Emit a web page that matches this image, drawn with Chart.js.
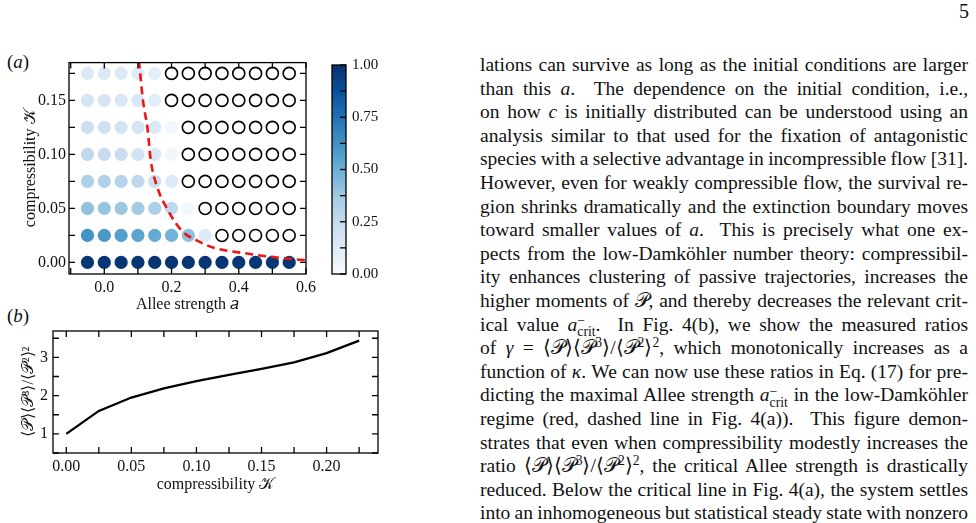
<!DOCTYPE html>
<html>
<head>
<meta charset="utf-8">
<script src="https://cdn.jsdelivr.net/npm/chart.js@4.4.1/dist/chart.umd.min.js"></script>
<style>
body { margin: 0; width: 976px; height: 523px; overflow: hidden; background: #fff; position: relative; font-family: "Liberation Serif", serif; color: #111; }
.abs { position: absolute; }
canvas { position: absolute; }
#page { right: 7px; top: 0px; font-size: 20px; }
.panel { left: 7px; font-size: 19px; }
#text { left: 480px; top: 53px; width: 488px; font-size: 19.5px; word-spacing: -1.5px; }
#text div { height: 23.6px; line-height: 23.6px; text-align: justify; text-align-last: justify; white-space: nowrap; }
.ss { display: inline-block; vertical-align: -0.42em; font-size: 0.7em; line-height: 0.82; text-align: left; }
.ss span { display: block; }
sup { font-size: 0.7em; line-height: 0; }
</style>
</head>
<body>
<div id="page" class="abs">5</div>
<div class="abs panel" style="top:51px">(<i>a</i>)</div>
<div class="abs panel" style="top:305px">(<i>b</i>)</div>

<canvas id="gridChart" width="330" height="264" style="left:0;top:50px"></canvas>
<canvas id="barChart" width="100" height="264" style="left:320px;top:50px"></canvas>
<canvas id="ratioChart" width="400" height="179" style="left:0;top:315px"></canvas>

<div id="text" class="abs">
<div>lations can survive as long as the initial conditions are larger</div>
<div>than this <i>a</i>. &nbsp;The dependence on the initial condition, i.e.,</div>
<div>on how <i>c</i> is initially distributed can be understood using an</div>
<div>analysis similar to that used for the fixation of antagonistic</div>
<div>species with a selective advantage in incompressible flow [31].</div>
<div>However, even for weakly compressible flow, the survival re-</div>
<div>gion shrinks dramatically and the extinction boundary moves</div>
<div>toward smaller values of <i>a</i>. &nbsp;This is precisely what one ex-</div>
<div>pects from the low-Damköhler number theory: compressibil-</div>
<div>ity enhances clustering of passive trajectories, increases the</div>
<div>higher moments of 𝒫, and thereby decreases the relevant crit-</div>
<div>ical value <i>a</i><span class="ss"><span>−</span><span>crit</span></span>. &nbsp;In Fig. 4(b), we show the measured ratios</div>
<div>of <i>γ</i> = ⟨𝒫⟩⟨𝒫<sup>3</sup>⟩/⟨𝒫<sup>2</sup>⟩<sup>2</sup>, which monotonically increases as a</div>
<div>function of <i>κ</i>. We can now use these ratios in Eq. (17) for pre-</div>
<div>dicting the maximal Allee strength <i>a</i><span class="ss"><span>−</span><span>crit</span></span> in the low-Damköhler</div>
<div>regime (red, dashed line in Fig. 4(a)). &nbsp;This figure demon-</div>
<div>strates that even when compressibility modestly increases the</div>
<div>ratio ⟨𝒫⟩⟨𝒫<sup>3</sup>⟩/⟨𝒫<sup>2</sup>⟩<sup>2</sup>, the critical Allee strength is drastically</div>
<div>reduced. Below the critical line in Fig. 4(a), the system settles</div>
<div>into an inhomogeneous but statistical steady state with nonzero</div>
</div>

<script>
// panel (a): grid of runs
const alleeA = [-0.05, 0, 0.05, 0.1, 0.15, 0.2, 0.25, 0.3, 0.35, 0.4, 0.45, 0.5, 0.55];
const kappaA = [0, 0.025, 0.05, 0.075, 0.1, 0.125, 0.15, 0.175];
// one row per kappa, null = extinct (open circle)
const survival = [
  [0.98, 0.98, 0.98, 0.98, 0.98, 0.98, 0.98, 0.98, 0.98, 0.98, 0.98, 0.98, 0.98],
  [0.62, 0.60, 0.57, 0.55, 0.52, 0.48, 0.42, 0.13, null, null, null, null, null],
  [0.41, 0.40, 0.38, 0.36, 0.33, 0.27, 0.03, null, null, null, null, null, null],
  [0.33, 0.32, 0.30, 0.27, 0.22, 0.13, null, null, null, null, null, null, null],
  [0.27, 0.25, 0.23, 0.19, 0.15, 0.04, null, null, null, null, null, null, null],
  [0.22, 0.21, 0.19, 0.17, 0.14, 0.03, null, null, null, null, null, null, null],
  [0.17, 0.17, 0.16, 0.15, 0.11, null, null, null, null, null, null, null, null],
  [0.14, 0.14, 0.14, 0.13, 0.10, null, null, null, null, null, null, null, null]
];
// red dashed a_crit line
const critA = [0.103, 0.115, 0.129, 0.138, 0.155, 0.19, 0.23, 0.275, 0.325, 0.425, 0.524, 0.61];
const critK = [0.187, 0.150, 0.123, 0.095, 0.072, 0.048, 0.0295, 0.0204, 0.0137, 0.0082, 0.0042, 0.0018];

// panel (b)
const kappaB = [0, 0.025, 0.05, 0.075, 0.1, 0.125, 0.15, 0.175, 0.2, 0.225];
const gammaB = [1.0, 1.60, 1.95, 2.19, 2.38, 2.54, 2.70, 2.87, 3.11, 3.44];

// ticks
const ticksAx = [0, 0.2, 0.4, 0.6];
const minorAx = [-0.1, 0.1, 0.3, 0.5];
const ticksAy = [0, 0.05, 0.1, 0.15];
const minorAy = [0.025, 0.075, 0.125, 0.175];
const ticksBar = [0, 0.25, 0.5, 0.75, 1];
const minorBar = [0.125, 0.375, 0.625, 0.875];
const ticksBx = [0, 0.05, 0.1, 0.15, 0.2];
const minorBx = [0.025, 0.075, 0.125, 0.175, 0.225];
const ticksBy = [1, 2, 3];
const minorBy = [0.5, 1.5, 2.5, 3.5];

const blues = ['#f7fbff', '#deebf7', '#c6dbef', '#9ecae1', '#6baed6', '#4292c6', '#2171b5', '#08519c', '#08306b'];
function hex(c) { return [1, 3, 5].map(i => parseInt(c.substr(i, 2), 16)); }
function bluesAt(v) {
  const p = Math.max(0, Math.min(1, v)) * 8;
  const i = Math.min(7, Math.floor(p)), f = p - i;
  const a = hex(blues[i]), b = hex(blues[i + 1]);
  return 'rgb(' + a.map((x, k) => Math.round(x + (b[k] - x) * f)).join(',') + ')';
}

Chart.defaults.font = { family: '"Liberation Serif", serif', size: 16 };
Chart.defaults.color = '#111';

// frame and inward ticks on all sides
const frameTicks = {
  id: 'frameTicks',
  afterDatasetsDraw(chart, args, o) {
    const { ctx, chartArea: a } = chart;
    ctx.save();
    ctx.strokeStyle = '#000';
    ctx.lineWidth = 1.3;
    ctx.strokeRect(a.left, a.top, a.right - a.left, a.bottom - a.top);
    const len = 6;
    if (o.x) {
      const sx = chart.scales[o.x];
      o.xv.forEach(v => {
        const px = sx.getPixelForValue(v);
        if (px < a.left - 0.5 || px > a.right + 0.5) return;
        ctx.beginPath();
        ctx.moveTo(px, a.bottom); ctx.lineTo(px, a.bottom - len);
        ctx.moveTo(px, a.top); ctx.lineTo(px, a.top + len);
        ctx.stroke();
      });
    }
    const sy = chart.scales[o.y];
    o.yv.forEach(v => {
      const py = sy.getPixelForValue(v);
      if (py < a.top - 0.5 || py > a.bottom + 0.5) return;
      ctx.beginPath();
      if (!o.rightOnly) { ctx.moveTo(a.left, py); ctx.lineTo(a.left + len, py); }
      ctx.moveTo(a.right, py); ctx.lineTo(a.right - len, py);
      ctx.stroke();
    });
    ctx.restore();
  }
};

function fixTicks(vals) {
  return s => { s.ticks = vals.map(v => ({ value: v })); };
}
const noGrid = { display: false, drawTicks: false };

// ---- panel (a)
const filled = [], open = [];
kappaA.forEach((k, r) => {
  alleeA.forEach((a, c) => {
    const v = survival[r][c];
    if (v === null) open.push({ x: a, y: k });
    else filled.push({ x: a, y: k, v: v });
  });
});

new Chart(document.getElementById('gridChart'), {
  type: 'scatter',
  data: {
    datasets: [
      {
        type: 'line',
        data: critA.map((a, i) => ({ x: a, y: critK[i] })),
        borderColor: '#f01414',
        borderWidth: 2.6,
        borderDash: [8, 5],
        pointRadius: 0,
        cubicInterpolationMode: 'monotone',
        fill: false,
        order: 0
      },
      {
        data: filled,
        pointRadius: 6.6,
        pointBorderWidth: 0,
        pointBackgroundColor: ctx => bluesAt(ctx.raw ? ctx.raw.v : 0),
        order: 1
      },
      {
        data: open,
        pointRadius: 6,
        pointBorderWidth: 1.6,
        pointBorderColor: '#000',
        pointBackgroundColor: 'rgba(255,255,255,0)',
        order: 2
      }
    ]
  },
  options: {
    responsive: false,
    animation: false,
    events: [],
    layout: { padding: { left: 0, right: 24, top: 10, bottom: 0 } },
    plugins: { legend: { display: false }, tooltip: { enabled: false },
      frameTicks: { x: 'x', y: 'y', xv: ticksAx.concat(minorAx), yv: ticksAy.concat(minorAy) } },
    scales: {
      x: {
        type: 'linear', min: -0.105, max: 0.6,
        afterBuildTicks: fixTicks(ticksAx),
        afterFit: s => { s.height = 40; },
        grid: noGrid,
        border: { display: false },
        ticks: { padding: 4, callback: v => v.toFixed(1) },
        title: { display: true, text: 'Allee strength 𝑎', padding: { top: 0, bottom: 0 } }
      },
      y: {
        type: 'linear', min: -0.0107, max: 0.185,
        afterBuildTicks: fixTicks(ticksAy),
        afterFit: s => { s.width = 69; },
        grid: noGrid,
        border: { display: false },
        ticks: { padding: 3, callback: v => v.toFixed(2) },
        title: { display: true, text: 'compressibility 𝒦', padding: { top: 21, bottom: 0 } }
      }
    }
  },
  plugins: [frameTicks]
});

// ---- colorbar
new Chart(document.getElementById('barChart'), {
  type: 'bar',
  data: {
    labels: ['c'],
    datasets: [{
      data: [[0, 1]],
      barPercentage: 1,
      categoryPercentage: 1,
      borderWidth: 0,
      backgroundColor: ctx => {
        const a = ctx.chart.chartArea;
        if (!a) return blues[4];
        const g = ctx.chart.ctx.createLinearGradient(0, a.bottom, 0, a.top);
        blues.forEach((c, i) => g.addColorStop(i / 8, c));
        return g;
      }
    }]
  },
  options: {
    responsive: false,
    animation: false,
    events: [],
    layout: { padding: { left: 12, right: 0, top: 10, bottom: 40 } },
    plugins: { legend: { display: false }, tooltip: { enabled: false },
      frameTicks: { y: 'y', yv: ticksBar.concat(minorBar), rightOnly: true } },
    scales: {
      x: { display: false },
      y: {
        position: 'right', min: 0, max: 1,
        afterBuildTicks: fixTicks(ticksBar),
        afterFit: s => { s.width = 74; },
        grid: noGrid,
        border: { display: false },
        ticks: { padding: 6, font: { size: 15 }, callback: v => v.toFixed(2) }
      }
    }
  },
  plugins: [frameTicks]
});

// ---- panel (b)
new Chart(document.getElementById('ratioChart'), {
  type: 'scatter',
  data: {
    datasets: [{
      data: kappaB.map((k, i) => ({ x: k, y: gammaB[i] })),
      showLine: true,
      borderColor: '#000',
      borderWidth: 2.3,
      pointRadius: 0,
      tension: 0
    }]
  },
  options: {
    responsive: false,
    animation: false,
    events: [],
    layout: { padding: { left: 0, right: 22, top: 16, bottom: 0 } },
    plugins: { legend: { display: false }, tooltip: { enabled: false },
      frameTicks: { x: 'x', y: 'y', xv: ticksBx.concat(minorBx), yv: ticksBy.concat(minorBy) } },
    scales: {
      x: {
        type: 'linear', min: -0.0102, max: 0.2395,
        afterBuildTicks: fixTicks(ticksBx),
        afterFit: s => { s.height = 41; },
        grid: noGrid,
        border: { display: false },
        ticks: { padding: 4, callback: v => v.toFixed(2) },
        title: { display: true, text: 'compressibility 𝒦', padding: { top: 0, bottom: 0 } }
      },
      y: {
        type: 'linear', min: 0.5, max: 3.69,
        afterBuildTicks: fixTicks(ticksBy),
        afterFit: s => { s.width = 53; },
        grid: noGrid,
        border: { display: false },
        ticks: { padding: 5, callback: v => String(v) },
        title: { display: true, text: '⟨𝒫⟩⟨𝒫³⟩/⟨𝒫²⟩²', padding: { top: 19, bottom: 0 } }
      }
    }
  },
  plugins: [frameTicks]
});
</script>
</body>
</html>
